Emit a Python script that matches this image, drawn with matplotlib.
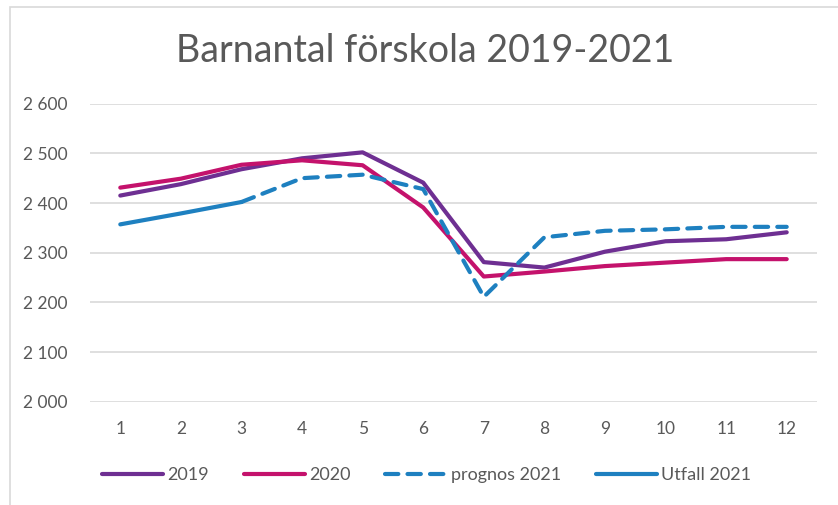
import matplotlib
matplotlib.use("Agg")
import matplotlib.pyplot as plt
from matplotlib.ticker import FuncFormatter
from matplotlib.patches import Rectangle

months = [1, 2, 3, 4, 5, 6, 7, 8, 9, 10, 11, 12]
v2019 = [2415, 2438, 2468, 2490, 2502, 2441, 2281, 2270, 2302, 2323, 2327, 2341]
v2020 = [2431, 2449, 2477, 2486, 2476, 2391, 2252, 2262, 2273, 2280, 2287, 2287]
prognos_months = [3, 4, 5, 6, 7, 8, 9, 10, 11, 12]
prognos2021 = [2402, 2450, 2457, 2428, 2211, 2331, 2344, 2347, 2352, 2352]
utfall_months = [1, 2, 3]
utfall2021 = [2357, 2379, 2402]
yticks = [2000, 2100, 2200, 2300, 2400, 2500, 2600]

title = "Barnantal förskola 2019-2021"
c2019 = "#6E2F92"
c2020 = "#C4126C"
c2021 = "#1E80C0"
txt = "#595959"

plt.rcParams['font.family'] = ['Lato', 'DejaVu Sans']

fig = plt.figure(figsize=(8.38, 5.05), dpi=100)
ax = fig.add_axes([90/838, 0.2046, (817-90)/838, 0.7947-0.2046])

lw = 3.0
ax.plot(months, v2019, color=c2019, lw=lw, solid_capstyle='round', label="2019")
ax.plot(months, v2020, color=c2020, lw=lw, solid_capstyle='round', label="2020")
ax.plot(prognos_months, prognos2021, color=c2021, lw=lw, ls=(0, (3.2, 2.2)),
        dash_capstyle='round', label="prognos 2021")
ax.plot(utfall_months, utfall2021, color=c2021, lw=lw, solid_capstyle='round',
        label="Utfall 2021")

ax.set_xlim(0.5, 12.5)
ax.set_ylim(2000, 2600)
ax.set_yticks(yticks)
ax.set_xticks(months)
ax.yaxis.set_major_formatter(FuncFormatter(lambda v, p: f"{v:,.0f}".replace(",", " ")))
ax.grid(axis='y', color='#D9D9D9', lw=1.2)
ax.set_axisbelow(True)
for s in ax.spines.values():
    s.set_visible(False)
ax.tick_params(axis='both', length=0, labelsize=12.5, labelcolor=txt)
ax.tick_params(axis='y', pad=16)
ax.tick_params(axis='x', pad=14)

fig.text(0.507, 0.9, title, ha='center', va='center', fontsize=27, color=txt)

leg = ax.legend(loc='upper center', bbox_to_anchor=(0.463, -0.165), ncol=4, frameon=False,
                fontsize=13, handlelength=3.4, columnspacing=1.9, handletextpad=0.25,
                labelcolor=txt)

fig.patches.append(Rectangle((10/838, -0.01), 1.0, (505-7)/505 + 0.01,
                             transform=fig.transFigure, fill=False,
                             edgecolor='#D9D9D9', lw=1.2))

fig.savefig("out.png", dpi=100)
